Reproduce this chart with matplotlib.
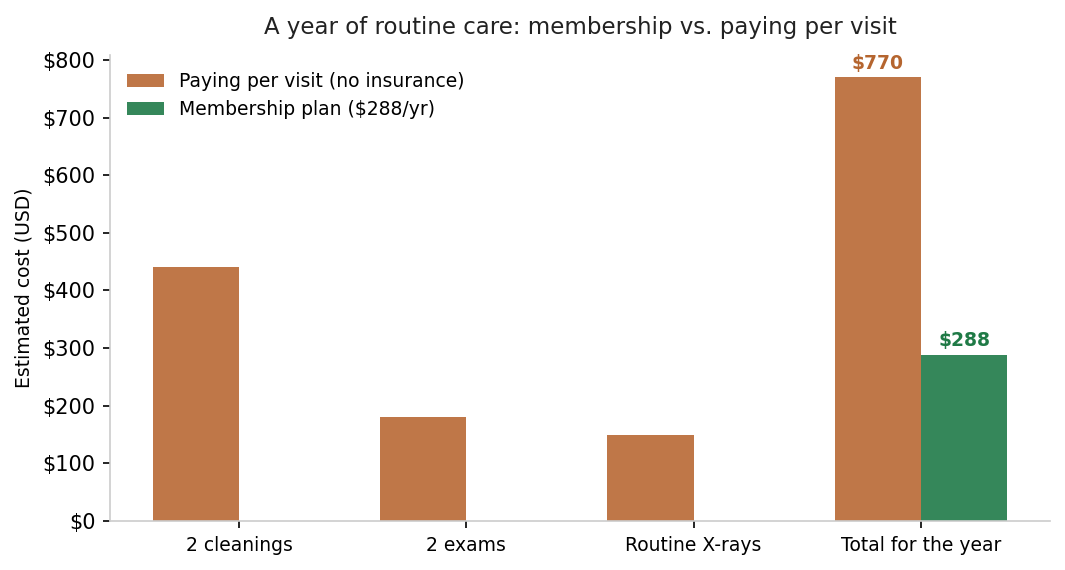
import matplotlib.pyplot as plt
import numpy as np
from matplotlib.ticker import FuncFormatter

categories = ["2 cleanings", "2 exams", "Routine X-rays", "Total for the year"]
perVisit = [440, 180, 150, 770]
membership = [0, 0, 0, 288]

orange = "#BF7748"
green = "#35875A"

fig, ax = plt.subplots(figsize=(7.1, 3.8), dpi=150)
x = np.arange(len(categories))
w = 0.38

ax.bar(x - w / 2, perVisit, w, color=orange, label="Paying per visit (no insurance)")
ax.bar(x + w / 2, membership, w, color=green, label="Membership plan ($288/yr)")

# only label the totals
ax.text(x[-1] - w / 2, perVisit[-1] + 8, "$" + str(perVisit[-1]), ha="center", va="bottom",
        color="#B5652F", fontweight="bold", fontsize=9)
ax.text(x[-1] + w / 2, membership[-1] + 8, "$" + str(membership[-1]), ha="center", va="bottom",
        color="#1F7A46", fontweight="bold", fontsize=9)

ax.set_xticks(x)
ax.set_xticklabels(categories, fontsize=9)
ax.yaxis.set_major_formatter(FuncFormatter(lambda v, p: "${:,.0f}".format(v)))
ax.tick_params(axis="y", labelsize=10)
ax.set_ylim(0, max(perVisit) * 1.05)
ax.set_ylabel("Estimated cost (USD)", fontsize=9)
ax.set_title("A year of routine care: membership vs. paying per visit", fontsize=11,
             color="#222222", pad=10)

for s in ["top", "right"]:
    ax.spines[s].set_visible(False)
for s in ["left", "bottom"]:
    ax.spines[s].set_color("#cccccc")

ax.legend(loc="upper left", frameon=False, fontsize=9)
fig.subplots_adjust(left=0.1033, right=0.9859, bottom=0.086, top=0.9035)
plt.savefig("out.png")
